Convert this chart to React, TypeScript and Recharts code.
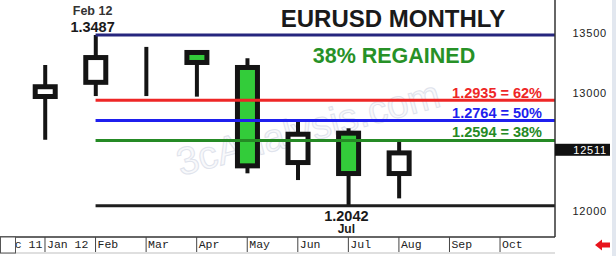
import { ComposedChart, Bar, XAxis, YAxis, ReferenceLine, ReferenceDot, Customized } from 'recharts';

const monthLabels = ['Dec 11', 'Jan 12', 'Feb', 'Mar', 'Apr', 'May', 'Jun', 'Jul', 'Aug', 'Sep', 'Oct'];
const monthTicks = [-1, 0, 1, 2, 3, 4, 5, 6, 7, 8, 9];

// candles Jan 12 .. Aug 12, prices in pips (x10000)
const opens = [12945, 13065, 13340, 13360, 13233, 12386, 12677, 12293];
const highs = [13233, 13487, 13386, 13360, 13290, 12753, 12697, 12583];
const lows = [12600, 12970, 12970, 12965, 12316, 12259, 12042, 12104];
const closes = [13070, 13317, 13340, 13233, 12358, 12668, 12293, 12510];

const fibValues = [12935, 12764, 12594];
const fibPcts = [62, 50, 38];
const priceTicks = [12000, 12511, 13000, 13500];
const lastPrice = 12511;

const FIB_COLORS = ['#ee2626', '#1f1fee', '#258a25'];
const UP_FILL = '#ffffff';
const DOWN_FILL = '#33cc3a';
const INK = '#141414';

const X_DOMAIN: [number, number] = [-0.89, 10.087];
const Y_DOMAIN: [number, number] = [11777, 13783];

const data = opens.map((o, i) => ({
  idx: i,
  range: [lows[i], highs[i]],
  open: o,
  high: highs[i],
  low: lows[i],
  close: closes[i],
}));

const fmt = (v: number) => (v / 10000).toFixed(4);

function Candle(props: any) {
  const { x, y, width, height, payload } = props;
  const { open, close, high, low } = payload;
  const k = height / (high - low || 1);
  const yOf = (v: number) => y + (high - v) * k;
  const cx = x + width / 2;
  const top = yOf(Math.max(open, close));
  const bot = yOf(Math.min(open, close));
  return (
    <g>
      <line x1={cx} x2={cx} y1={y} y2={y + height} stroke={INK} strokeWidth={4} />
      {open !== close && (
        <rect
          x={cx - 10}
          y={top + 2.5}
          width={20}
          height={Math.max(bot - top - 5, 0.5)}
          fill={close > open ? UP_FILL : DOWN_FILL}
          stroke={INK}
          strokeWidth={5}
        />
      )}
    </g>
  );
}

function MonthTick(props: any) {
  const { x, payload, index } = props;
  const label = monthLabels[index];
  const tx = Math.max(x + 2, 1);
  return (
    <g>
      <text x={tx} y={248} fontFamily="Liberation Mono" fontSize={11.5} fill="#222">
        {label}
      </text>
      {payload.value < 0 && <rect x={0.5} y={237} width={15} height={16} fill="#fff" stroke="#555" />}
    </g>
  );
}

function PriceTick(props: any) {
  const { y, payload } = props;
  if (payload.value === lastPrice) {
    return (
      <g>
        <rect x={555} y={y - 6.5} width={55} height={12} fill="#111" />
        <text x={607} y={y + 4} textAnchor="end" fontFamily="Liberation Sans" fontSize={11} letterSpacing={0.8} fill="#fff">
          {payload.value}
        </text>
      </g>
    );
  }
  return (
    <text x={607} y={y + 4} textAnchor="end" fontFamily="Liberation Sans" fontSize={11} letterSpacing={0.8} fill="#222">
      {payload.value}
    </text>
  );
}

function Watermark() {
  return (
    <text
      x={308}
      y={128}
      transform="rotate(-15 308 128)"
      textAnchor="middle"
      dominantBaseline="central"
      fontFamily="Liberation Sans"
      fontSize={39}
      fill="#f8f9fb"
      stroke="#dfe3ec"
      strokeWidth={1}
    >
      3cAnalysis.com
    </text>
  );
}

function Overlay() {
  return (
    <g>
      <text x={393} y={27.3} textAnchor="middle" fontFamily="Liberation Sans" fontWeight="bold" fontSize={24} fill="#1a1a1a">
        EURUSD MONTHLY
      </text>
      <text x={394} y={63} textAnchor="middle" fontFamily="Liberation Sans" fontWeight="bold" fontSize={21.5} fill="#279127">
        {`${fibPcts[2]}% REGAINED`}
      </text>
      <line x1={0} x2={555} y1={253} y2={253} stroke="#d4d4d4" strokeWidth={1.5} />
      <rect x={612} y={0} width={4} height={256} fill="#e2e7ef" />
      <polygon points="595,245 602,239.5 602,242.5 610,242.5 610,247.5 602,247.5 602,250.5" fill="#e8141c" />
    </g>
  );
}

export default function App() {
  return (
    <div style={{ position: 'absolute', left: 0, top: 0, background: '#fff' }}>
      <ComposedChart width={616} height={256} data={data} margin={{ top: 0, right: 0, bottom: 0, left: 0 }}>
        <Customized component={Watermark} />
        <XAxis
          dataKey="idx"
          type="number"
          domain={X_DOMAIN}
          allowDataOverflow
          ticks={monthTicks}
          interval={0}
          height={19}
          tickSize={15}
          tick={<MonthTick />}
          tickLine={{ stroke: '#444', strokeWidth: 1 }}
          axisLine={{ stroke: '#333', strokeWidth: 1.5 }}
        />
        <YAxis
          orientation="right"
          type="number"
          domain={Y_DOMAIN}
          allowDataOverflow
          ticks={priceTicks}
          interval={0}
          width={61}
          tickLine={false}
          tick={<PriceTick />}
          axisLine={{ stroke: '#333', strokeWidth: 1.5 }}
        />
        <ReferenceLine
          segment={[{ x: 1, y: highs[1] }, { x: X_DOMAIN[1], y: highs[1] }]}
          stroke="#26267e"
          strokeWidth={3}
        />
        <ReferenceLine
          segment={[{ x: 1, y: lows[6] }, { x: X_DOMAIN[1], y: lows[6] }]}
          stroke="#1e1e1e"
          strokeWidth={3}
        />
        {fibValues.map((v, i) => (
          <ReferenceLine
            key={v}
            segment={[{ x: 1, y: v }, { x: X_DOMAIN[1], y: v }]}
            stroke={FIB_COLORS[i]}
            strokeWidth={3}
            label={(p: any) => (
              <text
                x={p.viewBox.x + p.viewBox.width - 13}
                y={p.viewBox.y - (i === 2 ? 3.5 : 2)}
                textAnchor="end"
                fontFamily="Liberation Sans"
                fontWeight="bold"
                fontSize={14.5}
                fill={FIB_COLORS[i]}
              >
                {`${fmt(v)} = ${fibPcts[i]}%`}
              </text>
            )}
          />
        ))}
        <Bar dataKey="range" barSize={25} shape={<Candle />} isAnimationActive={false} />
        <ReferenceDot
          x={1}
          y={highs[1]}
          r={0}
          stroke="none"
          label={(p: any) => {
            const cx = p.viewBox.x + p.viewBox.width / 2;
            const cy = p.viewBox.y + p.viewBox.height / 2;
            return (
              <g fontFamily="Liberation Sans" fontWeight="bold" textAnchor="middle">
                <text x={cx - 3} y={cy - 20} fontSize={12.5} fill="#333">
                  {`${monthLabels[2]} 12`}
                </text>
                <text x={cx - 3} y={cy - 3.3} fontSize={14.5} fill="#1a1a1a">
                  {fmt(highs[1])}
                </text>
              </g>
            );
          }}
        />
        <ReferenceDot
          x={6}
          y={lows[6]}
          r={0}
          stroke="none"
          label={(p: any) => {
            const cx = p.viewBox.x + p.viewBox.width / 2;
            const cy = p.viewBox.y + p.viewBox.height / 2;
            return (
              <g fontFamily="Liberation Sans" fontWeight="bold" textAnchor="middle">
                <text x={cx - 2} y={cy + 15} fontSize={14.5} fill="#1a1a1a">
                  {fmt(lows[6])}
                </text>
                <text x={cx - 2} y={cy + 27} fontSize={12} fill="#1a1a1a">
                  {monthLabels[7]}
                </text>
              </g>
            );
          }}
        />
        <Customized component={Overlay} />
      </ComposedChart>
    </div>
  );
}
